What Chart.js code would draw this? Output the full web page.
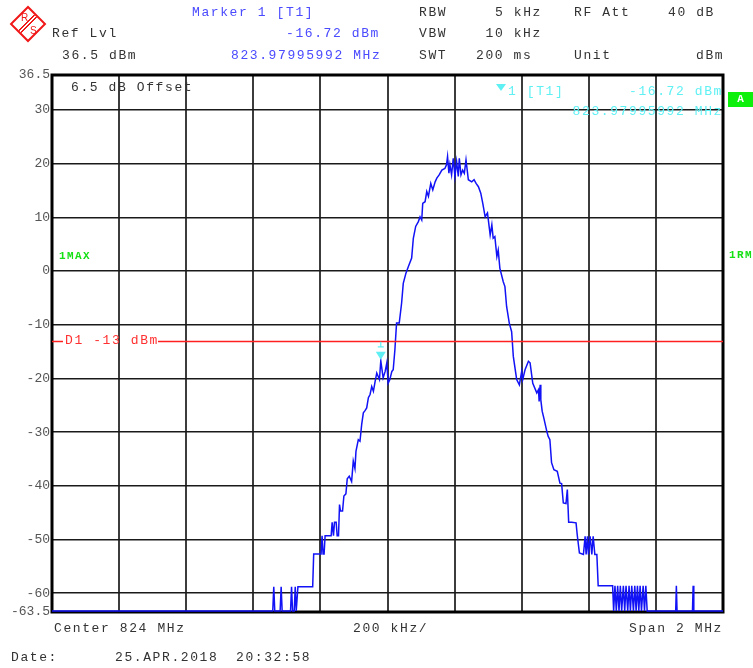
<!DOCTYPE html>
<html>
<head>
<meta charset="utf-8">
<title>Spectrum 824 MHz</title>
<script src="https://cdn.jsdelivr.net/npm/chart.js@4.4.1/dist/chart.umd.min.js"></script>
<style>
  html, body { margin: 0; padding: 0; background: #fff; }
  #wrap { position: relative; width: 753px; height: 668px; overflow: hidden; }
  #c { position: absolute; left: 0; top: 0; }
  .t {
    position: absolute;
    font-family: "Liberation Mono", monospace;
    font-size: 13px;
    letter-spacing: 1.6px;
    line-height: 13px;
    white-space: pre;
    color: #333;
  }
  .blue { color: #4a4aff; }
  .cyan { color: #5ff0f4; }
  .red { color: #ff3030; }
  .green { color: #14e014; font-weight: bold; font-size: 11px; letter-spacing: 1.4px; }
  .r { text-align: right; }
  #boxA {
    position: absolute; left: 728px; top: 92px; width: 25px; height: 15px;
    background: #0cf00c; color: #fff; font: bold 11px "Liberation Mono", monospace;
    text-align: center; line-height: 15px;
  }
  #mkTri {
    position: absolute; left: 496px; top: 84px; width: 0; height: 0;
    border-left: 5px solid transparent; border-right: 5px solid transparent;
    border-top: 7px solid #5ff0f4;
  }
  /* R&S Logo */
  #logo {
    position: absolute; left: 15px; top: 11px; width: 22px; height: 22px;
    border: 2px solid #f01818; transform: rotate(45deg);
    background: linear-gradient(90deg, transparent 40%, #f01818 40%, #f01818 46%,
      transparent 46%, transparent 52%, #f01818 52%, #f01818 58%, transparent 58%);
  }
  .logoTxt {
    position: absolute; font: 10px "Liberation Sans", sans-serif; color: #f01818;
    line-height: 10px;
  }
</style>
</head>
<body>
<div id="wrap">
  <canvas id="c" width="753" height="668"></canvas>

  <!-- Logo -->
  <div id="logo"></div>
  <div class="logoTxt" style="left:21px;top:13px">R</div>
  <div class="logoTxt" style="left:30px;top:26px">S</div>

  <!-- Kopfzeile -->
  <div class="t blue" style="left:192px;top:5.5px">Marker 1 [T1]</div>
  <div class="t" style="left:419px;top:5.5px">RBW</div>
  <div class="t" style="left:495px;top:5.5px">5 kHz</div>
  <div class="t" style="left:574px;top:5.5px">RF Att</div>
  <div class="t" style="left:668px;top:5.5px">40 dB</div>

  <div class="t" style="left:52px;top:26.5px">Ref Lvl</div>
  <div class="t blue r" style="right:373px;top:26.5px">-16.72 dBm</div>
  <div class="t" style="left:419px;top:26.5px">VBW</div>
  <div class="t" style="left:485.5px;top:26.5px">10 kHz</div>

  <div class="t" style="left:62px;top:48.5px">36.5 dBm</div>
  <div class="t blue" style="left:231px;top:48.5px">823.97995992 MHz</div>
  <div class="t" style="left:419px;top:48.5px">SWT</div>
  <div class="t" style="left:476px;top:48.5px">200 ms</div>
  <div class="t" style="left:574px;top:48.5px">Unit</div>
  <div class="t" style="left:696px;top:48.5px">dBm</div>

  <!-- Beschriftungen im Diagramm -->
  <div class="t" style="left:71px;top:80.5px">6.5 dB Offset</div>
  <div id="mkTri"></div>
  <div class="t cyan" style="left:508px;top:84.5px">1 [T1]</div>
  <div class="t cyan r" style="right:30px;top:84.5px">-16.72 dBm</div>
  <div class="t cyan r" style="right:30px;top:104.5px">823.97995992 MHz</div>
  <div id="boxA">A</div>
  <div class="t green" style="left:59px;top:250px">1MAX</div>
  <div class="t green" style="left:729px;top:249px">1RM</div>
  <div class="t red" style="left:65px;top:334px">D1 -13 dBm</div>

  <!-- Fusszeile -->
  <div class="t" style="left:54px;top:621.5px">Center 824 MHz</div>
  <div class="t" style="left:353px;top:621.5px">200 kHz/</div>
  <div class="t r" style="right:30px;top:621.5px">Span 2 MHz</div>
  <div class="t" style="left:11px;top:650.5px">Date:</div>
  <div class="t" style="left:115px;top:650.5px">25.APR.2018</div>
  <div class="t" style="left:236px;top:650.5px">20:32:58</div>
</div>

<script>
// ----------------------------------------------------------
// Daten
// ----------------------------------------------------------
const FREQ_MHZ = [
  823.000, 823.658, 823.661, 823.664, 823.680, 823.683, 823.686, 823.711, 823.714, 823.717,
  823.722, 823.725, 823.728, 823.730, 823.733, 823.777, 823.780, 823.802, 823.805, 823.808,
  823.811, 823.814, 823.832, 823.835, 823.839, 823.842, 823.847, 823.850, 823.854, 823.857,
  823.860, 823.866, 823.870, 823.876, 823.880, 823.886, 823.893, 823.898, 823.903, 823.906,
  823.913, 823.918, 823.923, 823.928, 823.933, 823.938, 823.943, 823.948, 823.953, 823.958,
  823.963, 823.968, 823.976, 823.980, 823.987, 823.993, 823.998, 824.002, 824.007, 824.013,
  824.017, 824.022, 824.027, 824.035, 824.042, 824.047, 824.055, 824.062, 824.072, 824.077,
  824.084, 824.092, 824.097, 824.102, 824.105, 824.112, 824.117, 824.122, 824.129, 824.135,
  824.142, 824.147, 824.154, 824.162, 824.171, 824.176, 824.179, 824.183, 824.186, 824.191,
  824.196, 824.201, 824.206, 824.211, 824.214, 824.219, 824.224, 824.229, 824.234, 824.241,
  824.251, 824.258, 824.264, 824.271, 824.278, 824.284, 824.291, 824.298, 824.300, 824.306,
  824.311, 824.315, 824.320, 824.326, 824.330, 824.335, 824.345, 824.350, 824.355, 824.363,
  824.370, 824.375, 824.385, 824.393, 824.400, 824.403, 824.410, 824.420, 824.425, 824.433,
  824.445, 824.450, 824.452, 824.455, 824.457, 824.461, 824.466, 824.475, 824.479, 824.484,
  824.489, 824.496, 824.506, 824.514, 824.519, 824.524, 824.532, 824.536, 824.540, 824.549,
  824.562, 824.566, 824.572, 824.584, 824.589, 824.592, 824.596, 824.599, 824.604, 824.609,
  824.613, 824.618, 824.624, 824.628, 824.671, 824.674, 824.678, 824.682, 824.686, 824.690,
  824.694, 824.698, 824.703, 824.707, 824.711, 824.716, 824.720, 824.724, 824.728, 824.733,
  824.737, 824.741, 824.745, 824.749, 824.753, 824.757, 824.762, 824.766, 824.770, 824.774,
  824.859, 824.861, 824.863, 824.909, 824.911, 824.913, 825.000
];

const LEVEL_DBM = [
  -63.3, -63.3, -58.8, -63.3, -63.3, -58.8, -63.3, -63.3, -58.8, -63.3,
  -63.3, -58.8, -63.3, -63.3, -58.8, -58.8, -52.7, -52.7, -49.3, -52.7,
  -52.7, -49.3, -49.3, -46.8, -49.3, -46.8, -46.8, -49.3, -49.3, -43.5,
  -44.7, -44.7, -41.9, -41.5, -38.7, -38.2, -39.2, -35.4, -36.8, -33.6,
  -31.4, -31.7, -28.6, -26.4, -26.0, -25.5, -23.6, -23.0, -21.5, -22.4,
  -20.6, -19.0, -20.2, -16.72, -19.9, -18.7, -17.1, -20.9, -20.2, -18.7,
  -18.4, -14.7, -9.7, -9.7, -6.0, -2.3, -0.4, 0.8, 2.4, 6.1,
  8.3, 9.2, 10.1, 9.5, 12.6, 12.9, 14.8, 13.9, 16.3, 15.1,
  16.6, 17.3, 17.9, 18.8, 19.1, 19.8, 21.3, 18.2, 19.8, 17.9,
  21.0, 17.6, 20.4, 17.6, 21.0, 17.9, 18.8, 18.2, 20.7, 17.0,
  16.6, 17.0, 16.3, 15.7, 14.5, 12.6, 10.1, 10.8, 9.8, 6.7,
  8.6, 6.1, 6.4, 2.7, 3.9, 0.5, -2.0, -2.9, -6.6, -9.7,
  -11.3, -15.9, -20.2, -21.2, -18.7, -20.2, -18.4, -16.8, -17.1, -20.9,
  -22.7, -22.1, -24.3, -21.2, -24.0, -26.1, -27.4, -29.9, -30.8, -31.4,
  -35.7, -37.0, -37.3, -39.5, -39.6, -43.2, -43.3, -40.7, -46.8, -46.8,
  -46.9, -49.4, -52.5, -52.8, -49.4, -52.8, -49.4, -52.8, -49.4, -52.8,
  -49.4, -52.8, -52.8, -58.6, -58.6, -63.3, -58.6, -63.3, -58.6, -63.3,
  -58.6, -63.3, -58.6, -63.3, -58.6, -63.3, -58.6, -63.3, -58.6, -63.3,
  -58.6, -63.3, -58.6, -63.3, -58.6, -63.3, -58.6, -63.3, -58.6, -63.3,
  -63.3, -58.6, -63.3, -63.3, -58.6, -63.3, -63.3
];

// Achsen
const Y_TICKS = [36.5, 30, 20, 10, 0, -10, -20, -30, -40, -50, -60, -63.5];
const X_GRID_MHZ = [823.0, 823.2, 823.4, 823.6, 823.8, 824.0, 824.2, 824.4, 824.6, 824.8, 825.0];

// Marker und Display-Linie
const MARKER_FREQ = 823.97995992;
const MARKER_LEVEL = -16.72;
const D1_LEVEL = -13;

// ----------------------------------------------------------
// Plugin: Rahmen, D1-Linie und Marker-Dreieck
// ----------------------------------------------------------
const analyzerPlugin = {
  id: "analyzer",
  beforeDatasetsDraw(chart) {
    const { ctx, chartArea: a } = chart;
    ctx.save();
    ctx.strokeStyle = "#000";
    ctx.lineWidth = 3;
    ctx.strokeRect(a.left, a.top, a.right - a.left, a.bottom - a.top);
    ctx.restore();
  },
  afterDatasetsDraw(chart) {
    const { ctx, chartArea: a, scales } = chart;
    ctx.save();

    // D1 Linie (mit Luecke fuer die Beschriftung)
    const yD1 = Math.round(scales.y.getPixelForValue(D1_LEVEL)) + 0.5;
    ctx.strokeStyle = "#ff2020";
    ctx.lineWidth = 1.3;
    ctx.beginPath();
    ctx.moveTo(a.left, yD1);
    ctx.lineTo(a.left + 11, yD1);
    ctx.moveTo(a.left + 106, yD1);
    ctx.lineTo(a.right, yD1);
    ctx.stroke();

    // Marker 1
    const mx = scales.x.getPixelForValue(MARKER_FREQ);
    const my = scales.y.getPixelForValue(MARKER_LEVEL);
    ctx.fillStyle = "#5ff0f4";
    ctx.strokeStyle = "#5ff0f4";
    ctx.beginPath();
    ctx.moveTo(mx - 5, my - 9);
    ctx.lineTo(mx + 5, my - 9);
    ctx.lineTo(mx, my - 1);
    ctx.closePath();
    ctx.fill();
    ctx.lineWidth = 1.2;
    ctx.beginPath();
    ctx.moveTo(mx, my - 19);
    ctx.lineTo(mx, my - 14);
    ctx.moveTo(mx - 3, my - 14);
    ctx.lineTo(mx + 3, my - 14);
    ctx.stroke();

    ctx.restore();
  },
};

// ----------------------------------------------------------
// Diagramm erstellen
// ----------------------------------------------------------
const tracePoints = FREQ_MHZ.map((f, i) => ({ x: f, y: LEVEL_DBM[i] }));

new Chart(document.getElementById("c"), {
  type: "scatter",
  data: {
    datasets: [
      {
        label: "1MAX",
        data: tracePoints,
        showLine: true,
        borderColor: "#1212f6",
        borderWidth: 1.5,
        pointRadius: 0,
        tension: 0,
      },
    ],
  },
  options: {
    responsive: false,
    animation: false,
    events: [],
    layout: { padding: { top: 75, right: 30, left: 0, bottom: 0 } },
    plugins: { legend: { display: false }, tooltip: { enabled: false } },
    scales: {
      x: {
        type: "linear",
        min: 823,
        max: 825,
        afterBuildTicks: (scale) => {
          scale.ticks = X_GRID_MHZ.map((v) => ({ value: v }));
        },
        afterFit: (scale) => {
          scale.height = 56;
        },
        ticks: { display: false },
        border: { display: false },
        grid: { color: "#3c3c3c", lineWidth: 2, drawTicks: false },
      },
      y: {
        type: "linear",
        min: -63.5,
        max: 36.5,
        afterBuildTicks: (scale) => {
          scale.ticks = Y_TICKS.map((v) => ({ value: v }));
        },
        afterFit: (scale) => {
          scale.width = 52;
        },
        ticks: {
          padding: 2,
          color: "#555",
          font: { family: "Liberation Mono", size: 13 },
          callback: (v) => String(v),
        },
        border: { display: false },
        grid: { color: "#1a1a1a", lineWidth: 1.6, drawTicks: false },
      },
    },
  },
  plugins: [analyzerPlugin],
});
</script>
</body>
</html>
